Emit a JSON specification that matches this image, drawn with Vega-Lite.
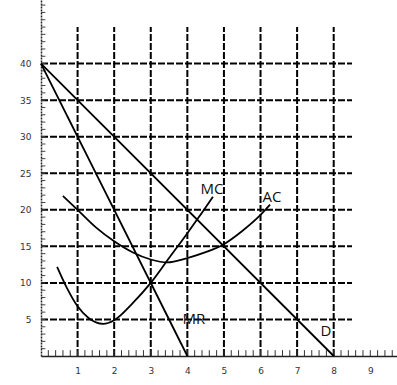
{
  "$schema": "https://vega.github.io/schema/vega-lite/v6.json",
  "width": 356,
  "height": 356,
  "autosize": {"type": "none"},
  "padding": {"left": 41, "top": 0, "right": 0, "bottom": 29},
  "background": "white",
  "config": {
    "view": {"stroke": null},
    "axis": {"grid": false, "labelFont": "DejaVu Sans", "labelFontSize": 9, "labelColor": "#333", "domainColor": "#222", "labelOverlap": false, "labelFlush": false, "labelBound": false}
  },
  "datasets": {
    "vgrid": [{"q": 1}, {"q": 2}, {"q": 3}, {"q": 4}, {"q": 5}, {"q": 6}, {"q": 7}, {"q": 8}],
    "hgrid": [{"p": 5}, {"p": 10}, {"p": 15}, {"p": 20}, {"p": 25}, {"p": 30}, {"p": 35}, {"p": 40}],
    "xminor": [{"q":0.2},{"q":0.4},{"q":0.6},{"q":0.8},{"q":1},{"q":1.2},{"q":1.4},{"q":1.6},{"q":1.8},{"q":2},{"q":2.2},{"q":2.4},{"q":2.6},{"q":2.8},{"q":3},{"q":3.2},{"q":3.4},{"q":3.6},{"q":3.8},{"q":4},{"q":4.2},{"q":4.4},{"q":4.6},{"q":4.8},{"q":5},{"q":5.2},{"q":5.4},{"q":5.6},{"q":5.8},{"q":6},{"q":6.2},{"q":6.4},{"q":6.6},{"q":6.8},{"q":7},{"q":7.2},{"q":7.4},{"q":7.6},{"q":7.8},{"q":8},{"q":8.2},{"q":8.4},{"q":8.6},{"q":8.8},{"q":9},{"q":9.2},{"q":9.4},{"q":9.6}],
    "yminor": [{"p":1},{"p":2},{"p":3},{"p":4},{"p":5},{"p":6},{"p":7},{"p":8},{"p":9},{"p":10},{"p":11},{"p":12},{"p":13},{"p":14},{"p":15},{"p":16},{"p":17},{"p":18},{"p":19},{"p":20},{"p":21},{"p":22},{"p":23},{"p":24},{"p":25},{"p":26},{"p":27},{"p":28},{"p":29},{"p":30},{"p":31},{"p":32},{"p":33},{"p":34},{"p":35},{"p":36},{"p":37},{"p":38},{"p":39},{"p":40},{"p":41},{"p":42},{"p":43},{"p":44},{"p":45},{"p":46},{"p":47},{"p":48}],
    "curves": [
      {"curve": "D", "q": 0, "p": 40}, {"curve": "D", "q": 8, "p": 0},
      {"curve": "MR", "q": 0, "p": 40}, {"curve": "MR", "q": 4, "p": 0},
      {"curve": "MC", "q": 0.44, "p": 12.2}, {"curve": "MC", "q": 0.7, "p": 9.4}, {"curve": "MC", "q": 1, "p": 6.8},
      {"curve": "MC", "q": 1.3, "p": 5.2}, {"curve": "MC", "q": 1.7, "p": 4.4}, {"curve": "MC", "q": 2, "p": 4.9},
      {"curve": "MC", "q": 2.5, "p": 7.2}, {"curve": "MC", "q": 3, "p": 10}, {"curve": "MC", "q": 3.5, "p": 13.4},
      {"curve": "MC", "q": 4, "p": 16.8}, {"curve": "MC", "q": 4.3, "p": 18.9}, {"curve": "MC", "q": 4.7, "p": 21.8},
      {"curve": "AC", "q": 0.6, "p": 21.9}, {"curve": "AC", "q": 1, "p": 20}, {"curve": "AC", "q": 1.5, "p": 17.6},
      {"curve": "AC", "q": 2, "p": 15.7}, {"curve": "AC", "q": 2.5, "p": 14.2}, {"curve": "AC", "q": 3, "p": 13.2},
      {"curve": "AC", "q": 3.45, "p": 12.8}, {"curve": "AC", "q": 4, "p": 13.4}, {"curve": "AC", "q": 4.5, "p": 14.2},
      {"curve": "AC", "q": 5, "p": 15.3}, {"curve": "AC", "q": 5.5, "p": 17.1}, {"curve": "AC", "q": 6, "p": 19.3},
      {"curve": "AC", "q": 6.26, "p": 20.7}
    ],
    "labels": [
      {"q": 4.67, "p": 22.9, "label": "MC"},
      {"q": 6.31, "p": 21.8, "label": "AC"},
      {"q": 4.18, "p": 5.1, "label": "MR"},
      {"q": 7.79, "p": 3.4, "label": "D"}
    ]
  },
  "layer": [
    {
      "data": {"name": "vgrid"},
      "mark": {"type": "rule", "color": "black", "strokeWidth": 2, "strokeDash": [7, 2]},
      "encoding": {
        "x": {"field": "q", "type": "quantitative", "title": null, "scale": {"domain": [0, 9.73], "nice": false, "zero": false},
              "axis": {"values": [1,2,3,4,5,6,7,8,9], "ticks": false, "labelPadding": 10, "domainWidth": 1.5, "title": null}},
        "y": {"datum": 0, "type": "quantitative", "title": null, "scale": {"domain": [0, 48.7], "nice": false, "zero": false},
              "axis": {"values": [5,10,15,20,25,30,35,40], "ticks": false, "labelPadding": 10, "domainDash": [2, 1], "domainWidth": 1.5, "title": null}},
        "y2": {"datum": 45}
      }
    },
    {
      "data": {"name": "hgrid"},
      "mark": {"type": "rule", "color": "black", "strokeWidth": 2, "strokeDash": [7, 2]},
      "encoding": {
        "y": {"field": "p", "type": "quantitative", "title": null,
              "axis": {"values": [5,10,15,20,25,30,35,40], "ticks": false, "labelPadding": 10, "domainDash": [2, 1], "domainWidth": 1.5, "title": null}},
        "x": {"datum": 0, "type": "quantitative", "title": null,
              "axis": {"values": [1,2,3,4,5,6,7,8,9], "ticks": false, "labelPadding": 10, "domainWidth": 1.5, "title": null}},
        "x2": {"datum": 8.5}
      }
    },
    {
      "data": {"name": "xminor"},
      "mark": {"type": "rule", "color": "#333", "strokeWidth": 1},
      "encoding": {
        "x": {"field": "q", "type": "quantitative", "title": null,
              "axis": {"values": [1,2,3,4,5,6,7,8,9], "ticks": false, "labelPadding": 10, "domainWidth": 1.5, "title": null}},
        "y": {"datum": 0, "type": "quantitative", "title": null,
              "axis": {"values": [5,10,15,20,25,30,35,40], "ticks": false, "labelPadding": 10, "domainDash": [2, 1], "domainWidth": 1.5, "title": null}},
        "y2": {"datum": 0.8}
      }
    },
    {
      "data": {"name": "yminor"},
      "mark": {"type": "rule", "color": "#444", "strokeWidth": 1},
      "encoding": {
        "y": {"field": "p", "type": "quantitative", "title": null,
              "axis": {"values": [5,10,15,20,25,30,35,40], "ticks": false, "labelPadding": 10, "domainDash": [2, 1], "domainWidth": 1.5, "title": null}},
        "x": {"datum": 0, "type": "quantitative", "title": null,
              "axis": {"values": [1,2,3,4,5,6,7,8,9], "ticks": false, "labelPadding": 10, "domainWidth": 1.5, "title": null}},
        "x2": {"datum": 0.12}
      }
    },
    {
      "data": {"name": "curves"},
      "mark": {"type": "line", "color": "black", "strokeWidth": 1.8, "interpolate": "monotone"},
      "encoding": {
        "x": {"field": "q", "type": "quantitative", "title": null,
              "axis": {"values": [1,2,3,4,5,6,7,8,9], "ticks": false, "labelPadding": 10, "domainWidth": 1.5, "title": null}},
        "y": {"field": "p", "type": "quantitative", "title": null,
              "axis": {"values": [5,10,15,20,25,30,35,40], "ticks": false, "labelPadding": 10, "domainDash": [2, 1], "domainWidth": 1.5, "title": null}},
        "detail": {"field": "curve"}
      }
    },
    {
      "data": {"name": "labels"},
      "mark": {"type": "text", "font": "Open Sans", "fontSize": 15, "color": "#111"},
      "encoding": {
        "x": {"field": "q", "type": "quantitative", "title": null,
              "axis": {"values": [1,2,3,4,5,6,7,8,9], "ticks": false, "labelPadding": 10, "domainWidth": 1.5, "title": null}},
        "y": {"field": "p", "type": "quantitative", "title": null,
              "axis": {"values": [5,10,15,20,25,30,35,40], "ticks": false, "labelPadding": 10, "domainDash": [2, 1], "domainWidth": 1.5, "title": null}},
        "text": {"field": "label"}
      }
    }
  ]
}
